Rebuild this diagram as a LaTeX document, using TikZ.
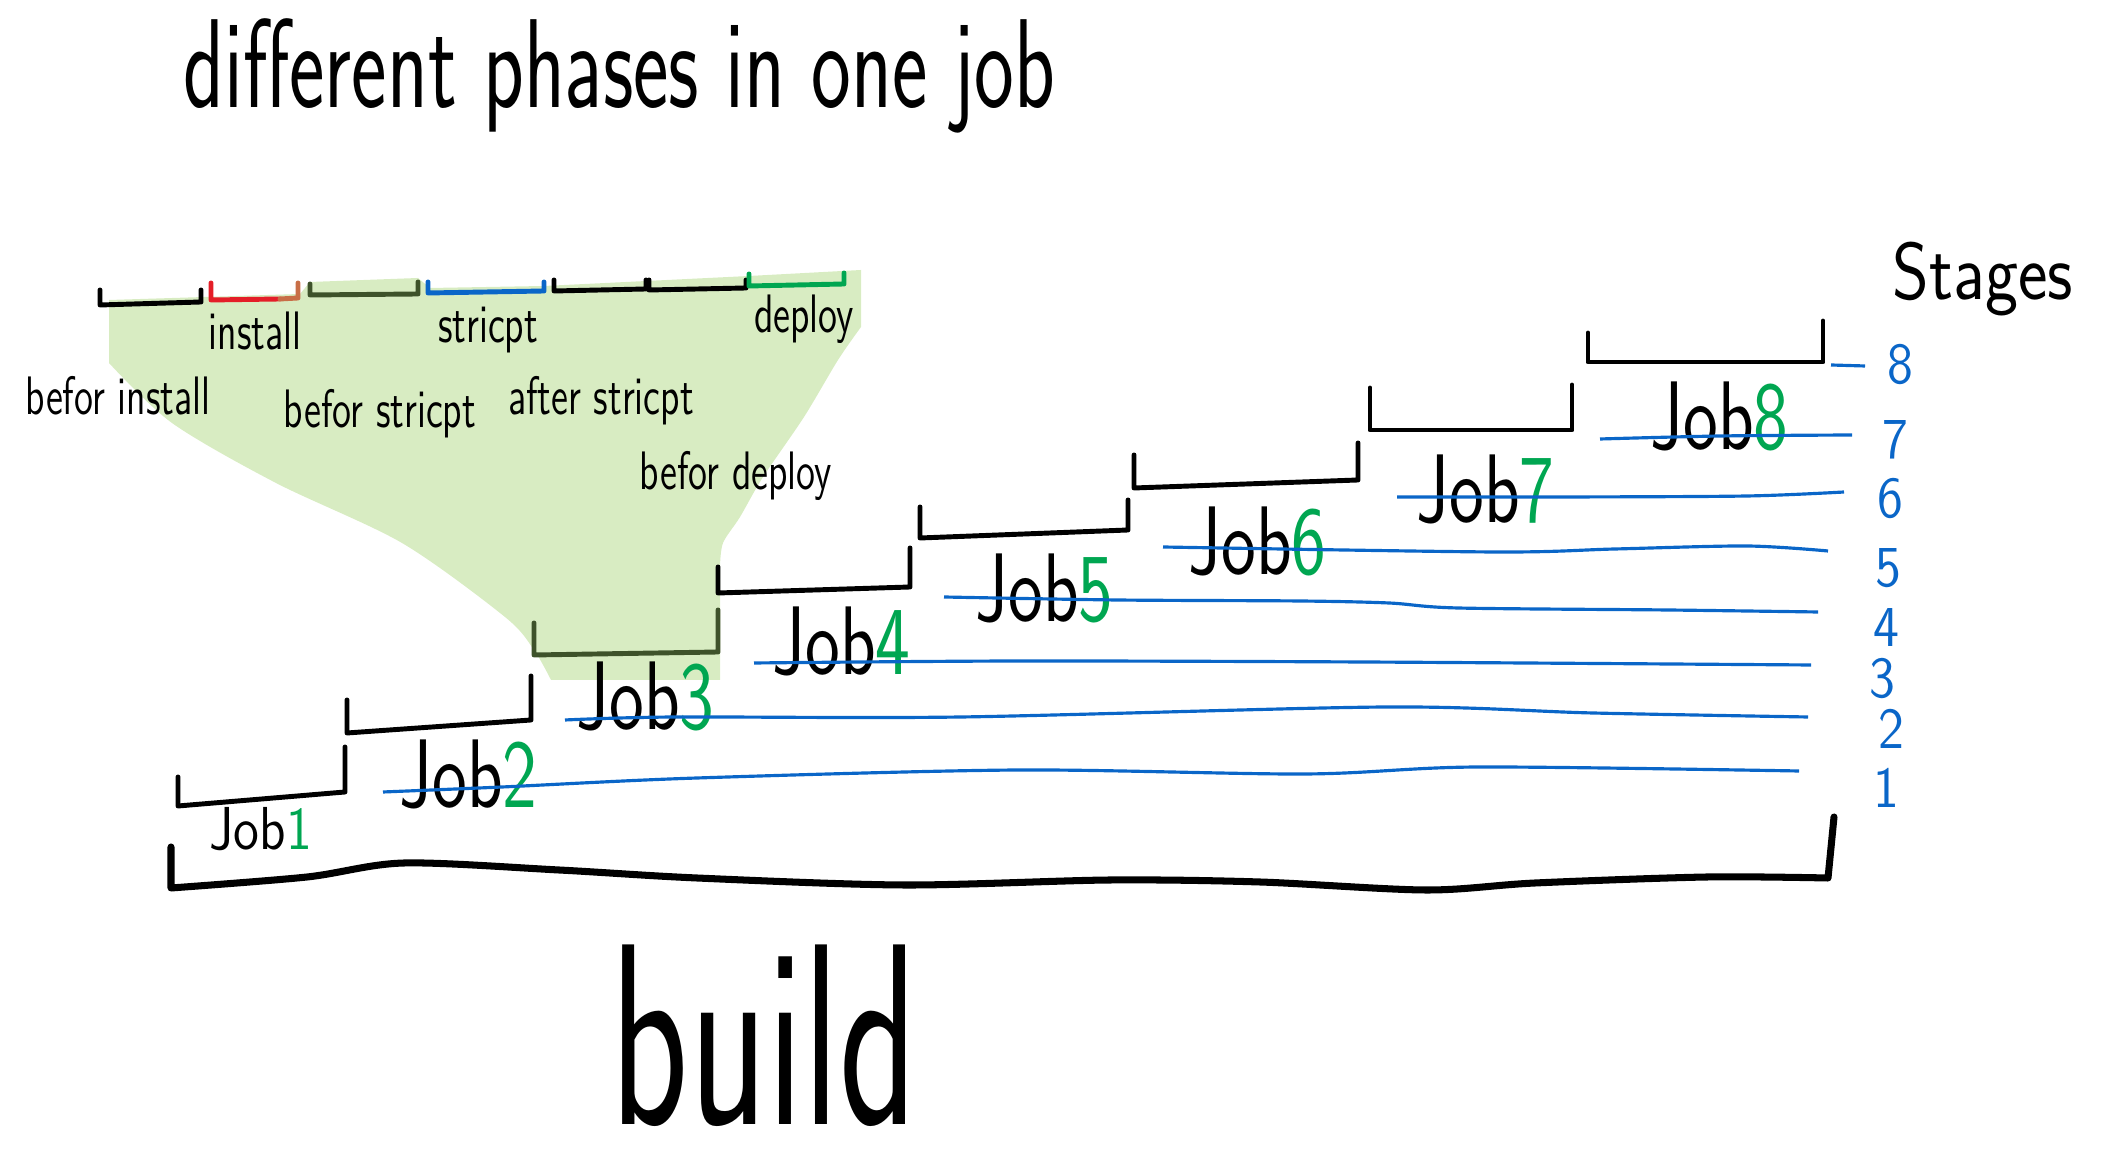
\documentclass[tikz,border=0pt]{standalone}
\usepackage{fontspec}
\usetikzlibrary{calc}

\definecolor{phasegreen}{RGB}{216,236,194}
\definecolor{jobolive}{RGB}{62,82,42}
\definecolor{stageblue}{RGB}{10,102,200}
\definecolor{jobgreen}{RGB}{0,166,81}
\definecolor{phasered}{RGB}{228,30,40}
\definecolor{phasebrown}{RGB}{200,110,70}

\begin{document}
\begin{tikzpicture}[x=0.01cm, y=-0.01cm,
  hand/.style={inner sep=0pt, font=\sffamily\fontsize{#1}{#1}\selectfont},
  bracket/.style={line width=1.4pt, line join=round, line cap=round},
  stageline/.style={stageblue, line width=0.9pt}]
\useasboundingbox (0,0) rectangle (2124,1168);

% shaded job
\fill[phasegreen] (109,300) -- (300,294) -- (310,282) -- (418,278) -- (430,288) -- (544,286) -- (749,276) -- (861,270)
  -- plot[smooth] coordinates {(861,327) (838,360) (804,417) (763,477) (740,517) (723,543) (720,567)}
  -- (720,680) -- (551,680)
  -- plot[smooth] coordinates {(551,680) (534,650) (505,617) (402,543) (276,483) (172,423) (109,363)}
  -- cycle;

% phases
\draw[bracket] (100,290) -- (100,305) -- (201,302) -- (201,290);
\draw[bracket, phasered] (211,283) -- (211,300) -- (280,299);
\draw[bracket, phasebrown] (280,299) -- (298,298) -- (298,283);
\draw[bracket, jobolive] (310,284) -- (310,295) -- (418,294) -- (418,282);
\draw[bracket, stageblue] (428,282) -- (428,293) -- (544,291) -- (544,282);
\draw[bracket] (554,280) -- (554,291) -- (646,289) -- (646,280);
\draw[bracket] (649,280) -- (649,290) -- (746,288) -- (746,280);
\draw[bracket, jobgreen] (749,274) -- (749,286) -- (844,284) -- (844,273);

\node[hand=11, yscale=1.4, anchor=base] (install) at (255,350) {install};
\node[hand=11, yscale=1.4, anchor=base] (script) at (488,343) {stricpt};
\node[hand=11, yscale=1.4, anchor=base] (deploy) at (804,333) {deploy};
\node[hand=11, yscale=1.4, anchor=base] (beforeinstall) at (118,415) {befor install};
\node[hand=11, yscale=1.4, anchor=base] (beforescript) at (380,428) {befor stricpt};
\node[hand=11, yscale=1.4, anchor=base] (afterscript) at (601,415) {after stricpt};
\node[hand=11, yscale=1.4, anchor=base] (beforedeploy) at (736,490) {befor deploy};

% jobs
\foreach \xl/\xr/\yl/\yr/\tl/\tr in {178/345/806/792/777/747, 347/531/733/720/700/676,
    718/910/593/587/567/548, 920/1128/538/530/507/500, 1134/1358/488/480/455/443,
    1370/1572/430/430/388/385, 1588/1823/362/362/333/321}
  \draw[bracket] (\xl,\tl) -- (\xl,\yl) -- (\xr,\yr) -- (\xr,\tr);
\draw[bracket, jobolive] (534,623) -- (534,655) -- (718,652) -- (718,610);

\node[hand=15, yscale=1.15, anchor=base west] (job1) at (209,850) {Job\textcolor{jobgreen}{1}};
\foreach \n/\x/\y in {2/399/808, 3/576/730, 4/772/675, 5/975/622, 6/1188/575, 7/1416/523, 8/1650/450}
  \node[hand=21, yscale=1.32, anchor=base west] (job\n) at (\x,\y) {Job\textcolor{jobgreen}{\n}};

% stages
\draw[stageline] plot[smooth] coordinates {(383,792) (502,787) (697,778) (1018,770) (1305,774) (1478,767) (1799,771)};
\draw[stageline] plot[smooth] coordinates {(565,720) (674,717) (961,717) (1386,707) (1593,713) (1808,717)};
\draw[stageline] plot[smooth] coordinates {(754,663) (1018,661) (1363,662) (1811,665)};
\draw[stageline] plot[smooth] coordinates {(944,597) (1117,600) (1300,601) (1389,603) (1458,608) (1668,610) (1818,612)};
\draw[stageline] plot[smooth] coordinates {(1163,547) (1495,552) (1615,549) (1747,546) (1828,551)};
\draw[stageline] plot[smooth] coordinates {(1397,497) (1563,497) (1747,496) (1844,492)};
\draw[stageline] plot[smooth] coordinates {(1600,439) (1720,436) (1852,435)};
\draw[stageline] (1831,365) -- (1865,366);

\foreach \n/\x/\y in {8/1900/365, 7/1895/440, 6/1890/499, 5/1888/568, 4/1886/628, 3/1882/679, 2/1891/729, 1/1886/788}
  \node[hand=15, yscale=1.1, text=stageblue] (stage\n) at (\x,\y) {\n};
\node[hand=20, yscale=1.15, anchor=base west] (stages) at (1892,300) {Stages};

% build
\draw[bracket, line width=2pt] (171,847)
  -- plot[smooth] coordinates {(171,888) (307,877) (404,863) (559,870) (697,878) (904,885) (1110,880) (1260,882) (1426,890) (1535,883) (1707,877) (1828,878)}
  -- (1834,817);
\node[hand=46, yscale=1.6, anchor=base west] (build) at (610,1125) {build};

\node[hand=24, yscale=1.5, anchor=base west] (title) at (183,108) {different phases in one job};
\end{tikzpicture}
\end{document}
